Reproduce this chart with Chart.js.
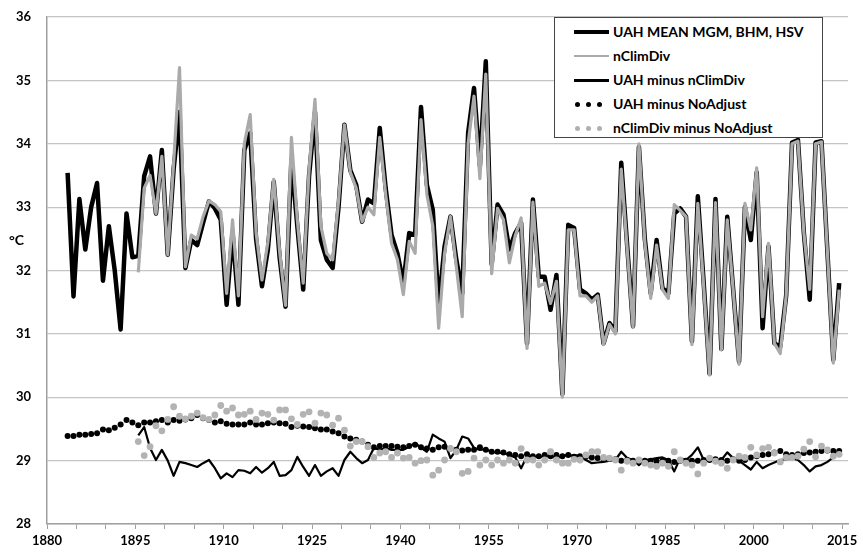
<!DOCTYPE html>
<html>
<head>
<meta charset="utf-8">
<script src="https://cdn.jsdelivr.net/npm/chart.js@4.4.1/dist/chart.umd.min.js"></script>
<style>
    body { margin: 0; background: #fff; font-family: Lato, "Open Sans", sans-serif; }
    #wrap { position: relative; width: 863px; height: 553px; }
    #unit { position: absolute; left: 9px; top: 231px; font: bold 14px Lato, sans-serif; color: #000; }
    #legend { position: absolute; left: 554px; top: 17px; width: 267px; height: 119px; border: 1px solid #444; background: #fff; }
    .row { position: relative; height: 24px; }
    .row:first-child { margin-top: 2px; }
    .sample { position: absolute; left: 19px; top: 12px; width: 35px; }
    .label { position: absolute; left: 58px; top: 3px; font: bold 14px Lato, sans-serif; color: #000; white-space: nowrap; }
    .dot { position: absolute; width: 5px; height: 5px; border-radius: 50%; top: -2px; }
</style>
</head>
<body>
<div id="wrap">
    <canvas id="tempChart" width="863" height="553"></canvas>
    <div id="unit">°C</div>
    <div id="legend">
        <div class="row"><div class="sample" style="border-top: 4px solid #000; margin-top: -2px;"></div><div class="label">UAH MEAN MGM, BHM, HSV</div></div>
        <div class="row"><div class="sample" style="border-top: 2px solid #aaa; margin-top: -1px;"></div><div class="label">nClimDiv</div></div>
        <div class="row"><div class="sample" style="border-top: 3px solid #000; margin-top: -1px;"></div><div class="label">UAH minus nClimDiv</div></div>
        <div class="row"><div class="sample"><span class="dot" style="left:1px;background:#000"></span><span class="dot" style="left:12px;background:#000"></span><span class="dot" style="left:23px;background:#000"></span></div><div class="label">UAH minus NoAdjust</div></div>
        <div class="row"><div class="sample"><span class="dot" style="left:1px;background:#b0b0b0"></span><span class="dot" style="left:12px;background:#b0b0b0"></span><span class="dot" style="left:23px;background:#b0b0b0"></span></div><div class="label">nClimDiv minus NoAdjust</div></div>
    </div>
</div>
<script>
const ctx = document.getElementById('tempChart');

var uahStart = 1883;
var climStart = 1895;

// UAH MEAN MGM, BHM, HSV (1883-2014)
var uahMean = [
    33.54, 31.59, 33.13, 32.33, 33.0, 33.38, 31.84,
    32.7, 32.0, 31.07, 32.9, 32.21, 32.23, 33.49, 33.8, 32.9, 33.9,
    32.25, 33.6, 34.5, 32.04, 32.48, 32.4, 32.75, 33.09, 32.98, 32.8,
    31.46, 32.6, 31.46, 33.9, 34.17, 32.5, 31.75, 32.33, 33.4, 32.2,
    31.43, 33.75, 32.7, 31.7, 33.5, 34.5, 32.48, 32.17, 32.04, 33.0,
    34.3, 33.58, 33.35, 32.77, 33.12, 33.06, 34.25, 33.3, 32.56, 32.27,
    31.8, 32.59, 32.56, 34.58, 33.35, 32.96, 31.45, 32.38, 32.85, 32.17,
    31.64, 34.17, 34.88, 33.65, 35.3, 32.1, 33.04, 32.88, 32.33, 32.59,
    32.75, 30.85, 33.12, 31.9, 31.9, 31.38, 31.93, 30.05, 32.72, 32.67,
    31.7, 31.64, 31.54, 31.62, 30.85, 31.17, 31.04, 33.7, 32.4, 31.12,
    33.95, 32.5, 31.64, 32.48, 31.72, 31.64, 32.9, 32.98, 32.85, 30.88,
    33.17, 31.8, 30.37, 33.13, 30.76, 32.85, 31.7, 30.56, 33.0, 32.48,
    33.55, 31.09, 32.38, 30.85, 30.8, 31.6, 34.02, 34.06, 32.6, 31.54,
    34.02, 34.04, 32.3, 30.59, 31.8
];

// nClimDiv (1895-2014)
var nClimDiv = [
    31.97, 33.3, 33.5, 32.9, 33.8,
    32.25, 33.7, 35.2, 32.06, 32.56, 32.5, 32.85, 33.1, 33.04, 32.93,
    31.64, 32.8, 31.6, 34.0, 34.46, 32.6, 31.85, 32.45, 33.44, 32.3,
    31.45, 34.1, 32.8, 31.8, 33.6, 34.7, 32.7, 32.27, 32.17, 33.1,
    34.3, 33.55, 33.3, 32.77, 33.0, 32.88, 34.1, 33.2, 32.43, 32.17,
    31.62, 32.46, 32.27, 34.38, 33.2, 32.7, 31.09, 32.27, 32.85, 32.06,
    31.27, 34.0, 34.75, 33.45, 35.1, 31.95, 32.98, 32.8, 32.12, 32.55,
    32.83, 30.77, 33.08, 31.75, 31.8, 31.48, 31.83, 30.0, 32.64, 32.64,
    31.6, 31.6, 31.5, 31.6, 30.83, 31.15, 31.0, 33.6, 32.35, 31.1,
    34.0, 32.45, 31.56, 32.4, 31.7, 31.56, 33.04, 32.95, 32.85, 30.83,
    33.06, 31.75, 30.35, 33.07, 30.75, 32.8, 31.7, 30.52, 33.06, 32.64,
    33.62, 31.27, 32.43, 30.85, 30.69, 31.6, 34.0, 34.04, 32.6, 31.7,
    34.0, 34.03, 32.3, 30.54, 31.7
];

// UAH minus nClimDiv (1895-2014), plotted on the 29 line
var uahMinusClim = [
    29.4, 29.53, 29.2, 29.01, 29.17,
    29.0, 28.76, 28.98, 28.96, 28.93, 28.9, 28.96, 29.01, 28.88, 28.72,
    28.8, 28.74, 28.85, 28.84, 28.8, 28.9, 28.81, 28.88, 28.98, 28.76,
    28.77, 28.85, 29.06, 28.9, 28.76, 28.93, 28.76, 28.83, 28.88, 28.76,
    29.01, 29.14, 29.04, 28.96, 29.01, 29.2, 29.17, 29.2, 29.17, 29.17,
    29.17, 29.22, 29.28, 29.2, 29.14, 29.41, 29.35, 29.3, 29.04, 29.17,
    29.38, 29.35, 29.2, 29.17, 29.18, 29.14, 29.12, 29.12, 29.09, 29.05,
    28.88, 29.07, 29.05, 29.07, 29.05, 29.09, 29.02, 29.09, 29.07, 29.09,
    29.07, 29.01, 28.96, 28.97, 28.98, 29.0, 29.01, 29.14, 29.04, 29.01,
    28.93, 29.01, 29.02, 29.04, 29.05, 29.01, 28.83, 29.04, 29.01, 29.09,
    29.21, 29.01, 29.01, 29.02, 29.01, 29.13, 29.04, 29.0, 28.93, 28.86,
    28.98, 28.88, 28.93, 28.97, 29.01, 29.02, 29.04, 29.01, 28.93, 28.83,
    28.91, 28.93, 28.98, 29.05, 29.17
];

// UAH minus NoAdjust (1883-2014)
var uahMinusNoAdj = [
    29.39, 29.39, 29.41, 29.41, 29.42, 29.43, 29.49,
    29.48, 29.52, 29.57, 29.64, 29.6, 29.56, 29.6, 29.6, 29.62, 29.64,
    29.6, 29.64, 29.63, 29.65, 29.67, 29.72, 29.67, 29.64, 29.6, 29.62,
    29.58, 29.57, 29.57, 29.57, 29.6, 29.57, 29.57, 29.59, 29.6, 29.59,
    29.58, 29.53, 29.55, 29.54, 29.53, 29.51, 29.49, 29.49, 29.46, 29.43,
    29.38, 29.35, 29.33, 29.3, 29.25, 29.21, 29.23, 29.23, 29.23, 29.22,
    29.21, 29.23, 29.25, 29.21, 29.19, 29.17, 29.21, 29.22, 29.19, 29.17,
    29.16, 29.17, 29.17, 29.21, 29.17, 29.14, 29.14, 29.13, 29.1, 29.09,
    29.07, 29.1, 29.07, 29.07, 29.09, 29.07, 29.09, 29.07, 29.09, 29.05,
    29.07, 29.06, 29.05, 29.04, 29.03, 29.03, 29.02, 29.0, 29.01, 29.0,
    29.0, 29.0, 29.0, 28.99, 29.0, 29.0, 28.98, 29.0, 29.0, 29.0,
    29.0, 29.01, 29.01, 29.02, 29.01, 29.0, 29.02, 29.0, 29.01, 29.05,
    29.07, 29.09, 29.1, 29.13, 29.15, 29.1, 29.09, 29.1, 29.12, 29.13,
    29.14, 29.15, 29.16, 29.15, 29.15
];

// nClimDiv minus NoAdjust (1895-2014)
var climMinusNoAdj = [
    29.3, 29.08, 29.22, 29.55, 29.47,
    29.65, 29.85, 29.7, 29.66, 29.7, 29.75, 29.68, 29.65, 29.72, 29.87,
    29.78, 29.83, 29.72, 29.73, 29.78, 29.65, 29.75, 29.73, 29.64, 29.8,
    29.8, 29.66, 29.57, 29.73, 29.77, 29.59, 29.75, 29.72, 29.56, 29.67,
    29.48, 29.23, 29.3, 29.3, 29.22, 29.05, 29.12, 29.14, 29.05, 29.12,
    29.04, 29.05, 28.96, 29.0, 29.01, 28.77, 28.85, 29.01, 29.19, 29.14,
    28.8, 28.83, 29.04, 28.93, 29.01, 28.93, 29.01, 28.96, 29.01, 28.96,
    29.19, 29.01, 29.01, 28.93, 29.01, 29.14, 29.01, 28.96, 28.96, 29.02,
    29.01, 29.09, 29.14, 29.14, 29.05, 29.04, 29.01, 28.85, 28.99, 28.96,
    29.01, 28.96, 28.93, 28.91, 28.96, 28.91, 29.14, 29.01, 28.96, 28.93,
    28.79, 28.96, 29.04, 28.99, 28.96, 28.88, 29.01, 29.07, 29.05, 29.21,
    29.09, 29.19, 29.21, 29.12, 28.98, 29.05, 29.05, 29.07, 29.18, 29.3,
    29.06, 29.23, 29.17, 29.07, 29.1
];

var xLabels = [1880, 1895, 1910, 1925, 1940, 1955, 1970, 1985, 2000, 2015];

// annual values sit in the middle of their year
function toPoints(values, startYear) {
    var pts = [];
    for (let i = 0; i < values.length; i++) {
        pts.push({ x: startYear + i + 0.5, y: values[i] });
    }
    return pts;
}

var tickFont = { family: 'Lato', size: 13, weight: 'bold' };

new Chart(ctx, {
    type: 'line',
    data: {
        datasets: [
            {
                label: 'UAH MEAN MGM, BHM, HSV',
                data: toPoints(uahMean, uahStart),
                borderColor: '#000',
                borderWidth: 4.5,
                pointRadius: 0,
                borderJoinStyle: 'round',
                order: 5
            },
            {
                label: 'nClimDiv',
                data: toPoints(nClimDiv, climStart),
                borderColor: '#aaaaaa',
                borderWidth: 3.2,
                pointRadius: 0,
                borderJoinStyle: 'round',
                order: 4
            },
            {
                label: 'UAH minus nClimDiv',
                data: toPoints(uahMinusClim, climStart),
                borderColor: '#000',
                borderWidth: 2.2,
                pointRadius: 0,
                borderJoinStyle: 'round',
                order: 3
            },
            {
                label: 'UAH minus NoAdjust',
                data: toPoints(uahMinusNoAdj, uahStart),
                showLine: false,
                pointRadius: 3,
                pointBorderWidth: 0,
                pointBackgroundColor: '#000',
                order: 2
            },
            {
                label: 'nClimDiv minus NoAdjust',
                data: toPoints(climMinusNoAdj, climStart),
                showLine: false,
                pointRadius: 3.4,
                pointBorderWidth: 0,
                pointBackgroundColor: '#b3b3b3',
                order: 1
            }
        ]
    },
    options: {
        responsive: false,
        animation: false,
        devicePixelRatio: 1,
        layout: { padding: { top: 17, right: 15, left: 0, bottom: 0 } },
        plugins: {
            legend: { display: false },
            tooltip: { enabled: false }
        },
        scales: {
            x: {
                type: 'linear',
                min: 1880,
                max: 2016,
                afterFit: function (scale) { scale.height = 29; },
                ticks: {
                    stepSize: 5,
                    includeBounds: false,
                    autoSkip: false,
                    maxRotation: 0,
                    padding: 4,
                    color: '#000',
                    font: tickFont,
                    callback: function (value) {
                        return xLabels.indexOf(value) >= 0 ? String(value) : '';
                    }
                },
                grid: {
                    drawOnChartArea: false,
                    drawTicks: true,
                    tickLength: 5,
                    tickColor: '#a0a0a0'
                },
                border: { color: '#a0a0a0', width: 1.5 }
            },
            y: {
                min: 28,
                max: 36,
                // tick padding would otherwise push the plot top down
                afterFit: function (scale) {
                    scale.width = 47;
                    scale.paddingTop = 8;
                    scale.paddingBottom = 8;
                },
                ticks: {
                    stepSize: 1,
                    padding: 16,
                    color: '#000',
                    font: tickFont
                },
                grid: {
                    color: '#c4c4c4',
                    lineWidth: 1.2,
                    drawTicks: false
                },
                border: { color: '#a0a0a0', width: 1.5 }
            }
        }
    }
});
</script>
</body>
</html>
